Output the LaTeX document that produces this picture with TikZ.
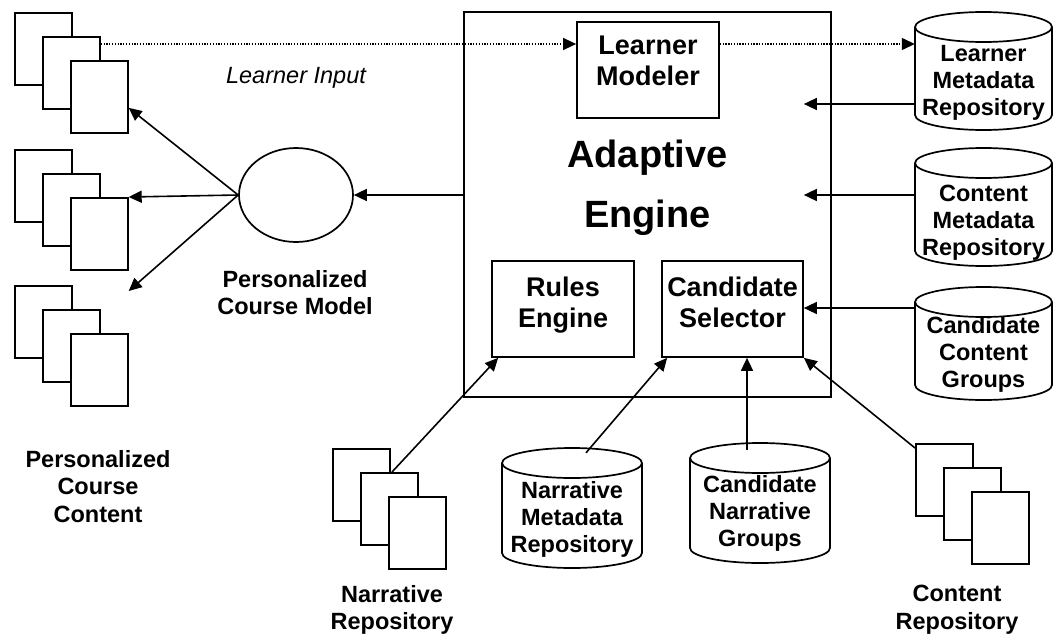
\documentclass[tikz,border=0pt]{standalone}
\usepackage{fontspec}
\setmainfont{Liberation Sans}
\usetikzlibrary{arrows.meta,calc,shapes.geometric}
\tikzset{
  shp/.style={draw, line width=1.7pt, fill=white, inner sep=0pt},
  pagebox/.style={shp, minimum width=57pt, minimum height=72pt, anchor=north west},
  rbox/.style={shp, minimum width=142pt, minimum height=96pt},
  cylline/.style={draw, line width=1.7pt, fill=white},
  lbl/.style={font=\bfseries\fontsize{23.5}{27.5}\selectfont, align=center, inner sep=0pt, anchor=north},
  cyltxt/.style={font=\bfseries\fontsize{23.5}{27}\selectfont, align=center, inner sep=0pt, anchor=north},
  boxtxt/.style={font=\bfseries\fontsize{27}{31.5}\selectfont, align=center, inner sep=0pt, anchor=north},
  arr/.style={line width=1.6pt, -{Triangle[length=13pt,width=12pt]}},
  dotarr/.style={line width=1.3pt, dash pattern=on 1.3pt off 1.5pt, -{Triangle[length=13pt,width=12pt]}},
}
\newcommand{\dbcyl}[5]{%
  \node[inner sep=0pt, minimum width={2*#5pt}, minimum height={(#4-#3)*1pt}] (#1) at ({#2},{(#3+#4)/2}) {};
  \draw[cylline] ({#2-#5},{#3+15}) -- ({#2-#5},{#4-15}) .. controls ({#2-#5},{#4-6.72}) and ({#2-0.552*#5},{#4}) .. ({#2},{#4}) .. controls ({#2+0.552*#5},{#4}) and ({#2+#5},{#4-6.72}) .. ({#2+#5},{#4-15}) -- ({#2+#5},{#3+15});
  \draw[line width=1.7pt] ({#2},{#3+15}) ellipse [x radius=#5pt, y radius=15pt];
}
\begin{document}
\begin{tikzpicture}[x=1pt, y=-1pt]
\fill[white] (0,0) rectangle (1054,637);
\useasboundingbox (0,0) rectangle (1054,637);

% document stacks
\node[pagebox] (ta) at (14,12) {};
\node[pagebox] (tb) at (42,36) {};
\node[pagebox] (tc) at (70,60) {};
\node[pagebox] (ma) at (14,149) {};
\node[pagebox] (mb) at (42,173) {};
\node[pagebox] (mc) at (70,197) {};
\node[pagebox] (ba) at (14,285) {};
\node[pagebox] (bb) at (42,309) {};
\node[pagebox] (bc) at (70,333) {};
\node[pagebox] (na) at (332,448) {};
\node[pagebox] (nb) at (360,472) {};
\node[pagebox] (nc) at (388,496) {};
\node[pagebox] (ca) at (915,443) {};
\node[pagebox] (cb) at (943,467) {};
\node[pagebox] (cc) at (971,491) {};

% main box
\node[draw, line width=1.3pt, inner sep=0pt, minimum width=367pt, minimum height=385pt] (ae) at (647.5,204.5) {};
\node[font=\bfseries\fontsize{38}{60}\selectfont, align=center, inner sep=0pt, anchor=north] (aet) at (647.5,139.8) {Adaptive\\Engine};

\node[rbox] (lm) at (648,70) {};
\node[boxtxt] (lmt) at (648,35.7) {Learner\\Modeler};
\node[rbox] (rules) at (563,309) {};
\node[boxtxt] (rulest) at (563,276.7) {Rules\\Engine};
\node[rbox, minimum width=141pt] (cs) at (732.5,309) {};
\node[boxtxt] (cst) at (732.5,276.7) {Candidate\\Selector};

% ellipse
\node[shp, ellipse, minimum width=114pt, minimum height=94pt] (pcm) at (296,195) {};

% cylinders
\dbcyl{lmr}{983.5}{12}{130}{68.5}
\dbcyl{cmr}{983.5}{148}{266}{68.5}
\dbcyl{ccg}{983.5}{287}{400}{68.5}
\dbcyl{nmr}{572}{448}{568}{70}
\dbcyl{cng}{760}{443}{563}{70}
\node[cyltxt] (lmrt) at (983.5,45.2) {Learner\\Metadata\\Repository};
\node[cyltxt] (cmrt) at (983.5,185.2) {Content\\Metadata\\Repository};
\node[cyltxt] (ccgt) at (983.5,316.2) {Candidate\\Content\\Groups};
\node[cyltxt] (nmrt) at (572,481.2) {Narrative\\Metadata\\Repository};
\node[cyltxt] (cngt) at (760,475.2) {Candidate\\Narrative\\Groups};

% labels
\node[font=\itshape\fontsize{23.5}{27}\selectfont, inner sep=0pt, anchor=base] (li) at (296,83) {Learner Input};
\node[lbl] (pcml) at (295,270.2) {Personalized\\Course Model};
\node[lbl] (pccl) at (98,450.2) {Personalized\\Course\\Content};
\node[lbl] (nrl) at (392,585.2) {Narrative\\Repository};
\node[lbl] (crl) at (957,585.2) {Content\\Repository};

% helper coordinates
\coordinate (yA) at (0,104);
\coordinate (yB) at (0,195);
\coordinate (yC) at (0,308);
\coordinate (d1) at ($(tb.north east)+(0,8)$);
\coordinate (c1) at ($(cng.north)+(-13,7)$);

% connectors
\draw[dotarr] (d1) -- (d1 -| lm.west);
\draw[dotarr] (d1 -| lm.east) -- (d1 -| lmr.west);
\draw[arr] (lmr.west |- yA) -- (cs.east |- yA);
\draw[arr] (cmr.west |- yB) -- (cs.east |- yB);
\draw[arr] (ccg.west |- yC) -- (cs.east |- yC);
\draw[arr] (pcm.east -| ae.west) -- (pcm.east);
\draw[arr] (pcm.west) -- ($(tc.east)+(0,11)$);
\draw[arr] (pcm.west) -- (mc.north east);
\draw[arr] (pcm.west) -- ($(bc.north east)+(0,-42)$);
\draw[arr] ($(nb.north west)+(32,0)$) -- ($(rules.south west)+(7,0)$);
\draw[arr] ($(nmr.north)+(14,5)$) -- ($(cs.south west)+(6,0)$);
\draw[arr] (c1) -- (c1 |- cs.south);
\draw[arr] ($(ca.north west)+(0,5)$) -- (cs.south east);
\end{tikzpicture}
\end{document}
